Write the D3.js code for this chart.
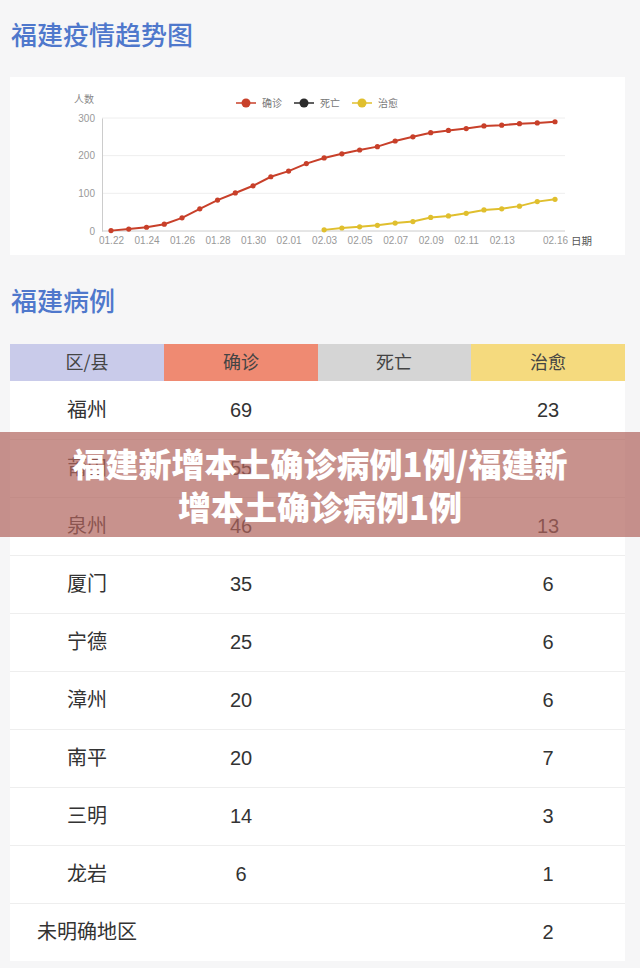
<!DOCTYPE html>
<html><head><meta charset="utf-8">
<script src="https://cdn.jsdelivr.net/npm/d3@7"></script>
<style>html,body{margin:0;padding:0;background:#f6f6f7;}svg{display:block;}</style>
</head><body>
<svg id="c" width="640" height="968"></svg>
<script>
const dates = ["01.22","01.23","01.24","01.25","01.26","01.27","01.28","01.29","01.30","01.31","02.01","02.02","02.03","02.04","02.05","02.06","02.07","02.08","02.09","02.10","02.11","02.12","02.13","02.14","02.15","02.16"];
const confirmed = [1,5,10,18,35,59,82,101,120,144,159,179,194,205,215,224,239,250,261,267,272,279,281,285,287,290];
const recovered = [null,null,null,null,null,null,null,null,null,null,null,null,3,8,11,15,21,25,36,40,47,56,59,66,78,84];
const xTickLabels = ["01.22","01.24","01.26","01.28","01.30","02.01","02.03","02.05","02.07","02.09","02.11","02.13","02.16"];
const yTicks = [0,100,200,300];
const seriesNames = ["确诊","死亡","治愈"];
const seriesColors = ["#c8402a","#2b2b2b","#e0bf2e"];

const tableHeader = ["区/县","确诊","死亡","治愈"];
const districts = ["福州","莆田","泉州","厦门","宁德","漳州","南平","三明","龙岩","未明确地区"];
const caseConfirmed = [69,55,46,35,25,20,20,14,6,null];
const caseDeath = [null,null,null,null,null,null,null,null,null,null];
const caseRecovered = [23,17,13,6,6,6,7,3,1,2];
const headerColors = ["#c9cbea","#ef8a72","#d5d5d5","#f5da7e"];

const bannerLines = ["福建新增本土确诊病例1例/福建新","增本土确诊病例1例"];

const svg = d3.select("#c");
const CJK = "'Noto Sans CJK SC','Noto Sans',sans-serif";
const LAT = "'Liberation Sans','Noto Sans CJK SC',sans-serif";

// titles
svg.append("text").attr("x",11).attr("y",45).attr("font-family",CJK).attr("font-size",26).attr("font-weight",500)
  .attr("fill","#4f78cc").text("福建疫情趋势图");
svg.append("text").attr("x",11).attr("y",311).attr("font-family",CJK).attr("font-size",26).attr("font-weight",500)
  .attr("fill","#4f78cc").text("福建病例");

// chart panel
svg.append("rect").attr("x",10).attr("y",77).attr("width",615).attr("height",178).attr("fill","#fff");

const x = d3.scaleLinear().domain([0,dates.length-1]).range([111,555]);
const y = d3.scaleLinear().domain([0,300]).range([231,118]);

const g = svg.append("g");
// gridlines
g.selectAll("line.grid").data(yTicks.filter(d=>d>0)).join("line")
  .attr("x1",102).attr("x2",565).attr("y1",d=>y(d)).attr("y2",d=>y(d))
  .attr("stroke","#eeeeee").attr("stroke-width",1);
// axes
const yAxis = d3.axisLeft(y).tickValues(yTicks).tickSize(0).tickPadding(7);
const ya = g.append("g").attr("transform","translate(102,0)").call(yAxis);
ya.select(".domain").attr("stroke","#cccccc");
ya.selectAll("text").attr("font-family",LAT).attr("font-size",10).attr("fill","#999");

const xAxis = d3.axisBottom(x).tickValues(xTickLabels.map(l=>dates.indexOf(l))).tickFormat(i=>dates[i]).tickSize(0).tickPadding(6);
const xa = g.append("g").attr("transform","translate(0,231)").call(xAxis);
xa.select(".domain").remove();
xa.append("line").attr("x1",102).attr("x2",565).attr("y1",0).attr("y2",0).attr("stroke","#cccccc");
xa.selectAll("text").attr("font-family",LAT).attr("font-size",10).attr("fill","#999");

g.append("text").attr("x",84).attr("y",103).attr("text-anchor","middle").attr("font-family",CJK).attr("font-size",10).attr("fill","#888").text("人数");
g.append("text").attr("x",571).attr("y",245).attr("font-family",CJK).attr("font-size",10.5).attr("fill","#555").text("日期");

function drawSeries(vals,color){
  const pts = vals.map((v,i)=>({i,v})).filter(d=>d.v!==null);
  g.append("path").datum(pts).attr("fill","none").attr("stroke",color).attr("stroke-width",2)
    .attr("d",d3.line().x(d=>x(d.i)).y(d=>y(d.v)));
  g.selectAll(null).data(pts).join("circle").attr("cx",d=>x(d.i)).attr("cy",d=>y(d.v)).attr("r",2.6).attr("fill",color);
}
drawSeries(confirmed,seriesColors[0]);
drawSeries(recovered,seriesColors[2]);

// legend
const legX = [236,294,352];
seriesNames.forEach((n,i)=>{
  const lg = g.append("g").attr("transform",`translate(${legX[i]},103)`);
  lg.append("line").attr("x1",0).attr("x2",20).attr("stroke",seriesColors[i]).attr("stroke-width",1.5);
  lg.append("circle").attr("cx",10).attr("r",4.5).attr("fill",seriesColors[i]);
  lg.append("text").attr("x",26).attr("y",3.5).attr("font-family",CJK).attr("font-size",10).attr("fill","#777").text(n);
});

// table
const colX = [10,164,318,471,625];
const colC = [87,241,394,548];
const rowH = 58, headY = 344, headH = 37, bodyY = 381;
headerColors.forEach((c,i)=>{
  svg.append("rect").attr("x",colX[i]).attr("y",headY).attr("width",colX[i+1]-colX[i]).attr("height",headH).attr("fill",c);
  svg.append("text").attr("x",colC[i]).attr("y",headY+headH/2+6).attr("text-anchor","middle")
    .attr("font-family",CJK).attr("font-size",18).attr("fill","#444").text(tableHeader[i]);
});
svg.append("rect").attr("x",10).attr("y",bodyY).attr("width",615).attr("height",rowH*districts.length).attr("fill","#fff");
districts.forEach((d,r)=>{
  const ty = bodyY + r*rowH;
  if(r>0) svg.append("line").attr("x1",10).attr("x2",625).attr("y1",ty+0.5).attr("y2",ty+0.5).attr("stroke","#eeeeee");
  const cy = ty + rowH/2 + 7;
  const cells = [d, caseConfirmed[r], caseDeath[r], caseRecovered[r]];
  cells.forEach((v,i)=>{
    if(v===null) return;
    svg.append("text").attr("x",colC[i]).attr("y",cy).attr("text-anchor","middle")
      .attr("font-family", i===0?CJK:LAT).attr("font-size",20).attr("fill","#333").text(v);
  });
});

// banner overlay
svg.append("rect").attr("x",0).attr("y",432).attr("width",640).attr("height",105).attr("fill","rgb(176,100,92)").attr("fill-opacity",0.7);
bannerLines.forEach((t,i)=>{
  svg.append("text").attr("x",320).attr("y",477+i*43).attr("text-anchor","middle")
    .attr("font-family",CJK).attr("font-weight",900).attr("font-size",33).attr("fill","#fff").text(t);
});
</script>
</body></html>
